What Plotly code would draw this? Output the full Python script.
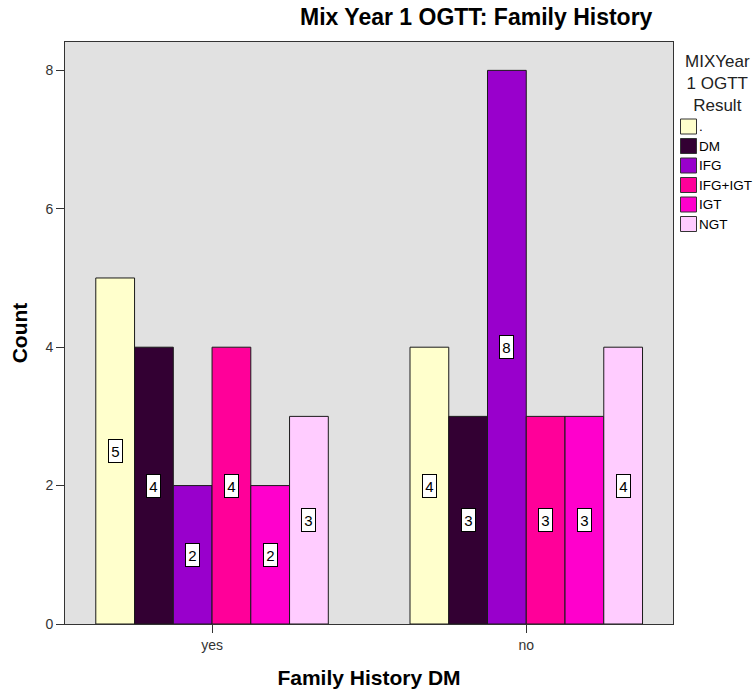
import plotly.graph_objects as go

# Family history groups on the x axis
groups = ["yes", "no"]

# OGTT result categories and their counts per group (yes, no)
results = [".", "DM", "IFG", "IFG+IGT", "IGT", "NGT"]
count_dot = [5, 4]
count_dm = [4, 3]
count_ifg = [2, 8]
count_ifg_igt = [4, 3]
count_igt = [2, 3]
count_ngt = [3, 4]
series_counts = [count_dot, count_dm, count_ifg, count_ifg_igt, count_igt, count_ngt]

colors = ["#FFFFCC", "#330033", "#9900CC", "#FF0099", "#FF00CC", "#FFCCFF"]

BARGAP = 0.26
FONT = "Arial, 'Liberation Sans', sans-serif"

W, H = 755, 690
ML, MR, MT, MB = 65, 82, 42, 66
PW, PH = W - ML - MR, H - MT - MB


def px_x(x):
    """pixel column -> paper x"""
    return (x - ML) / PW


def px_y(y):
    """pixel row -> paper y"""
    return 1 - (y - MT) / PH


fig = go.Figure()
xpos = list(range(len(groups)))
for name, vals, col in zip(results, series_counts, colors):
    fig.add_trace(go.Bar(
        x=xpos, y=vals, name=name, showlegend=False,
        marker=dict(color=col, line=dict(color="#1a1a1a", width=1)),
    ))

# value labels in small white boxes at mid-height of each bar
n = len(results)
bar_w = (1 - BARGAP) / n
for si, vals in enumerate(series_counts):
    for gi, v in enumerate(vals):
        fig.add_annotation(
            x=gi + (si - (n - 1) / 2) * bar_w, y=v / 2,
            xref="x", yref="y", text=str(v), showarrow=False,
            font=dict(family=FONT, size=15, color="#000000"),
            bgcolor="#ffffff", bordercolor="#000000", borderwidth=1,
            borderpad=1, width=11, height=20,
        )

# chart title
fig.add_annotation(
    text="<b>Mix Year 1 OGTT: Family History</b>",
    xref="paper", yref="paper", x=px_x(476), y=px_y(17),
    xanchor="center", yanchor="middle", showarrow=False,
    font=dict(family=FONT, size=23, color="#000000"),
)

# legend drawn to the right of the plot area
fig.add_annotation(
    text="MIXYear<br>1 OGTT<br>Result",
    xref="paper", yref="paper", x=px_x(717), y=px_y(50),
    xanchor="center", yanchor="top", align="center", showarrow=False,
    font=dict(family=FONT, size=17, color="#222222"),
)
ITEM_TOP, ITEM_STEP, SW_H = 119, 19.5, 15
for i, (name, col) in enumerate(zip(results, colors)):
    top = ITEM_TOP + i * ITEM_STEP
    fig.add_shape(
        type="rect", xref="paper", yref="paper",
        x0=px_x(680.5), x1=px_x(696.5), y0=px_y(top), y1=px_y(top + SW_H),
        fillcolor=col, line=dict(color="#333333", width=1),
    )
    fig.add_annotation(
        text=name, xref="paper", yref="paper",
        x=px_x(697), y=px_y(top + SW_H / 2), xanchor="left", yanchor="middle",
        showarrow=False, font=dict(family=FONT, size=13.5, color="#000000"),
    )

fig.update_layout(
    width=W, height=H,
    margin=dict(l=ML, r=MR, t=MT, b=MB, pad=0, autoexpand=False),
    paper_bgcolor="#ffffff",
    plot_bgcolor="#e1e1e1",
    barmode="group", bargap=BARGAP, bargroupgap=0,
    font=dict(family=FONT, size=14, color="#333333"),
    showlegend=False,
    xaxis=dict(
        range=[-0.468, 1.467], tickmode="array", tickvals=xpos, ticktext=groups,
        ticks="outside", ticklen=8, tickcolor="#333333", tickwidth=1,
        showgrid=False, zeroline=False, automargin=False,
        showline=True, linecolor="#333333", linewidth=1, mirror=True,
        tickfont=dict(family=FONT, size=14, color="#333333"),
        title=dict(text="<b>Family History DM</b>", standoff=18,
                   font=dict(family=FONT, size=21, color="#000000")),
    ),
    yaxis=dict(
        range=[0, 8.41], tickmode="array", tickvals=[0, 2, 4, 6, 8],
        ticks="outside", ticklen=8, tickcolor="#333333", tickwidth=1,
        showgrid=False, zeroline=False, automargin=False,
        showline=True, linecolor="#333333", linewidth=1, mirror=True,
        tickfont=dict(family=FONT, size=14, color="#333333"),
        title=dict(text="<b>Count</b>", standoff=12,
                   font=dict(family=FONT, size=21, color="#000000")),
    ),
)

fig.write_html("out.html")
